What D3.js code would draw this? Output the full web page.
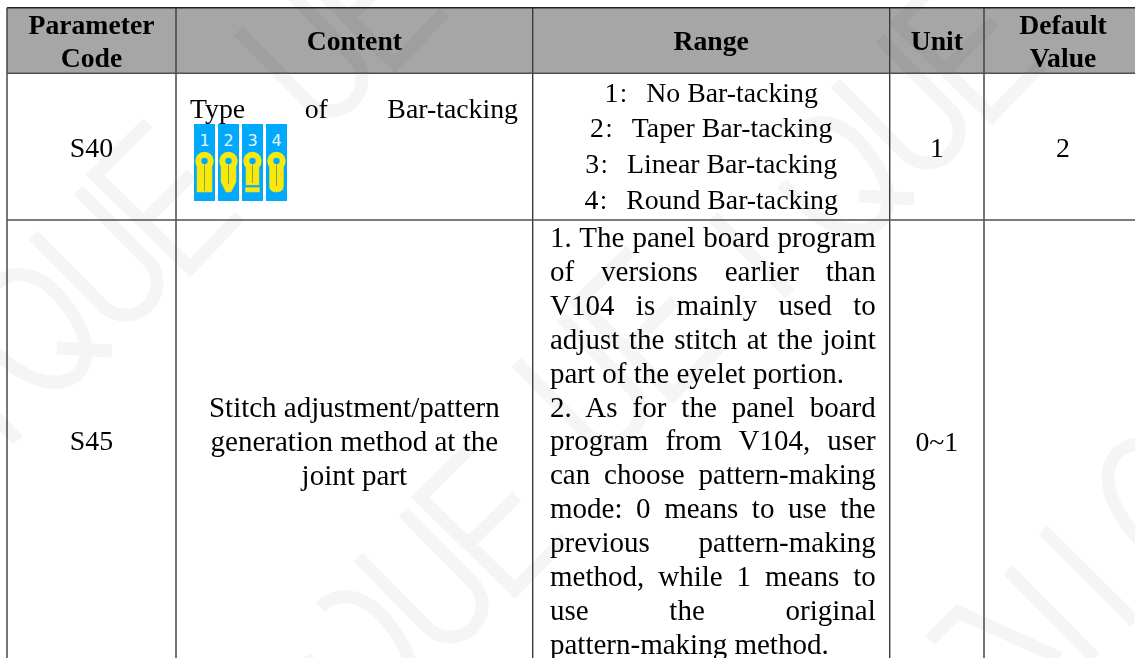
<!DOCTYPE html>
<html lang="en">
<head>
    <meta charset="UTF-8">
    <title>Parameter table</title>
    <script src="https://d3js.org/d3.v7.min.js"></script>
    <style>
        html, body { margin: 0; padding: 0; background: #fff; overflow: hidden; }
        svg { display: block; }
        text { font-family: "Liberation Serif", "Noto Sans CJK SC", serif; fill: #000; }
        .wm { fill: none; stroke: #f5f5f5; stroke-width: 13; mix-blend-mode: multiply; }
    </style>
</head>
<body>
    <div id="container"></div>

    <script>
        // table content
        const columns = ['code', 'content', 'range', 'unit', 'def'];
        const columnEdges = [7, 176, 532.7, 889.7, 984, 1142];
        const rowNames = ['head', 's40', 's45'];
        const rowEdges = [7.7, 73.3, 220, 700];

        const headerLabels = [['Parameter', 'Code'], ['Content'], ['Range'], ['Unit'], ['Default', 'Value']];
        const codes = ['S40', 'S45'];
        const s45Content = ['Stitch adjustment/pattern', 'generation method at the', 'joint part'];
        const s40Title = 'Type of Bar-tacking';
        const s40Range = ['1：No Bar-tacking', '2：Taper Bar-tacking', '3：Linear Bar-tacking', '4：Round Bar-tacking'];
        const s45Range = [
            '1. The panel board program',
            'of versions earlier than',
            'V104 is mainly used to',
            'adjust the stitch at the joint',
            'part of the eyelet portion.',
            '2. As for the panel board',
            'program from V104, user',
            'can choose pattern-making',
            'mode: 0 means to use the',
            'previous pattern-making',
            'method, while 1 means to',
            'use the original',
            'pattern-making method.'
        ];
        const s45Last = ['part of the eyelet portion.', 'pattern-making method.'];
        const units = ['1', '0~1'];
        const defaults = ['2', ''];
        const iconDigits = ['1', '2', '3', '4'];

        // watermark letters, one set of strokes moved to each spot
        const wmU = 'M33,235 L105,308 A32,32 0 0 0 150,263 L78,190';
        const wmE = 'M148,123 L95,175 L190,268 L240,216 M143,222 L192,174';
        const wmQ = 'M-5,285 C20,262 50,280 70,310 C95,345 90,378 60,382 C30,385 0,360 -20,335 M57,348 L112,351';
        const wmSpots = [
            [0, 0, [wmQ, wmU, wmE]],
            [205, -204, [wmU, wmE]],
            [325, 322, [wmQ, wmU, wmE]],
            [802, -152, [wmQ, wmU, wmE]],
            [483, 127, [wmU, wmE]]
        ];
        const wmExtra = [
            'M-10,412 L18,440',
            'M1043,530 L1135,622',
            'M1008,570 L1095,658',
            'M930,640 L958,612 L1060,658',
            'M1140,443 C1100,450 1095,490 1140,541',
            'M713,217 L790,294'
        ];

        const headSize = 27.7;
        const baseSize = 27.8;
        const longSize = 29;
        const lineStep = 33.9;

        const x = d3.scaleOrdinal().domain(columns).range(columnEdges);
        const y = d3.scaleOrdinal().domain(rowNames).range(rowEdges);
        const colCenter = c => (x(c) + columnEdges[columns.indexOf(c) + 1]) / 2;

        const svg = d3.select('#container').append('svg')
            .attr('width', 1135)
            .attr('height', 658);

        //header band
        svg.append('rect')
            .attr('x', x('code'))
            .attr('y', y('head'))
            .attr('width', columnEdges[5] - columnEdges[0])
            .attr('height', rowEdges[1] - rowEdges[0])
            .attr('fill', '#a6a6a6');

        //watermark
        const wm = svg.append('g');
        wm.selectAll('g')
            .data(wmSpots)
            .enter()
            .append('g')
            .attr('transform', d => `translate(${d[0]},${d[1]})`)
            .selectAll('path')
            .data(d => d[2])
            .enter()
            .append('path')
            .attr('class', 'wm')
            .attr('d', d => d);
        wm.selectAll('path.extra')
            .data(wmExtra)
            .enter()
            .append('path')
            .attr('class', 'wm extra')
            .attr('d', d => d);

        //grid lines
        svg.selectAll('line.col')
            .data(columnEdges.slice(0, 5))
            .enter()
            .append('line')
            .attr('class', 'col')
            .attr('x1', d => d)
            .attr('x2', d => d)
            .attr('y1', rowEdges[0])
            .attr('y2', 658)
            .attr('stroke', '#3c3c3c')
            .attr('stroke-width', 1.4);

        svg.selectAll('line.row')
            .data(rowEdges.slice(0, 3))
            .enter()
            .append('line')
            .attr('class', 'row')
            .attr('x1', columnEdges[0])
            .attr('x2', 1135)
            .attr('y1', d => d)
            .attr('y2', d => d)
            .attr('stroke', (d, i) => i === 0 ? '#222' : '#505050')
            .attr('stroke-width', 1.4);

        //header labels
        headerLabels.forEach(function (lines, i) {
            const base = lines.length === 2 ? [34, 66.5] : [50];
            svg.selectAll('text.h' + i)
                .data(lines)
                .enter()
                .append('text')
                .attr('class', 'h' + i)
                .attr('x', colCenter(columns[i]))
                .attr('y', (d, j) => base[j])
                .attr('text-anchor', 'middle')
                .attr('font-weight', 'bold')
                .attr('font-size', headSize)
                .text(d => d);
        });

        function centered(name, lines, col, firstBase, step, size) {
            svg.selectAll('text.' + name)
                .data(lines)
                .enter()
                .append('text')
                .attr('class', name)
                .attr('x', colCenter(col))
                .attr('y', (d, i) => firstBase + i * step)
                .attr('text-anchor', 'middle')
                .attr('font-size', size)
                .text(d => d);
        }

        // stretch the gaps so the line fills the cell
        function justified(name, lines, left, right, firstBase, step, size) {
            svg.selectAll('text.' + name)
                .data(lines)
                .enter()
                .append('text')
                .attr('class', name)
                .attr('x', left)
                .attr('y', (d, i) => firstBase + i * step)
                .attr('font-size', size)
                .text(d => d)
                .each(function (d) {
                    if (s45Last.includes(d)) return;
                    const gaps = d.split(' ').length - 1;
                    const extra = right - left - this.getComputedTextLength();
                    d3.select(this).attr('word-spacing', extra / gaps);
                });
        }

        centered('code40', [codes[0]], 'code', 157, 0, baseSize);
        centered('code45', [codes[1]], 'code', 450, 0, baseSize);
        justified('title40', [s40Title], 190, 518, 118.3, 0, baseSize);
        centered('cont45', s45Content, 'content', 416.5, 34, longSize);
        justified('range45', s45Range, 550, 875.7, 247, lineStep, longSize);
        centered('unit40', [units[0]], 'unit', 157, 0, baseSize);
        centered('unit45', [units[1]], 'unit', 451, 0, baseSize);
        centered('def40', [defaults[0]], 'def', 157, 0, baseSize);

        // range list: the full width colon is drawn smaller, it sits low in the reference
        const colonSize = 20;
        const rangeText = svg.selectAll('text.range40')
            .data(s40Range)
            .enter()
            .append('text')
            .attr('class', 'range40')
            .attr('x', colCenter('range'))
            .attr('y', (d, i) => 101.5 + i * 35.8)
            .attr('text-anchor', 'middle')
            .attr('font-size', baseSize);
        rangeText.append('tspan').text(d => d.split('：')[0]);
        rangeText.append('tspan').attr('font-size', colonSize).text('：');
        rangeText.append('tspan').attr('dx', baseSize - colonSize).text(d => d.split('：')[1]);

        //bar-tacking icons
        const iconX = d3.scaleBand().domain(iconDigits).range([194, 287]).paddingInner(0.125).paddingOuter(0);
        const icons = svg.selectAll('g.icon')
            .data(iconDigits)
            .enter()
            .append('g')
            .attr('class', 'icon')
            .attr('transform', d => `translate(${iconX(d)},124)`);

        icons.append('rect')
            .attr('width', iconX.bandwidth())
            .attr('height', 77)
            .attr('fill', '#00a9fb');

        icons.append('text')
            .attr('x', 10.5)
            .attr('y', 21.5)
            .attr('text-anchor', 'middle')
            .attr('font-size', 16)
            .style('font-family', '"DejaVu Sans"')
            .style('fill', '#e6f4fb')
            .text(d => d);

        const stems = [
            'M3,42 L3,68 L18,68 L18,42 Z',
            'M3,42 L3,58 L8,68 L13,68 L18,58 L18,42 Z',
            'M4,42 L4,61 L17,61 L17,42 Z M3.5,63.5 L17.5,63.5 L17.5,68 L3.5,68 Z',
            'M3.5,42 L3.5,62 Q3.5,68 10.5,68 Q17.5,68 17.5,62 L17.5,42 Z'
        ];

        icons.append('path')
            .attr('d', (d, i) => stems[i])
            .attr('fill', '#f7e90c')
            .attr('stroke', '#d8d832')
            .attr('stroke-width', 0.6);

        icons.append('circle')
            .attr('cx', 10.5)
            .attr('cy', 37)
            .attr('r', 6.2)
            .attr('fill', '#00a9fb')
            .attr('stroke', '#f7e90c')
            .attr('stroke-width', 6);

        icons.append('line')
            .attr('x1', 10.5)
            .attr('x2', 10.5)
            .attr('y1', 41)
            .attr('y2', (d, i) => [67, 60, 59, 62][i])
            .attr('stroke', '#9a9a55')
            .attr('stroke-width', 1);
    </script>
</body>
</html>
